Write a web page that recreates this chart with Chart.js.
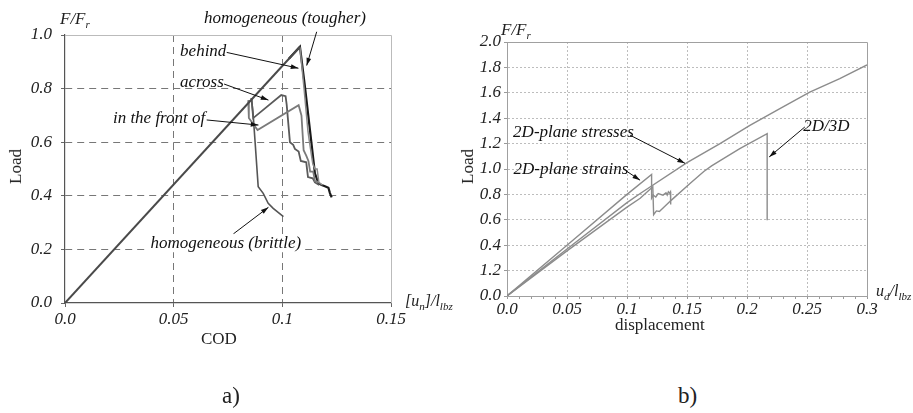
<!DOCTYPE html>
<html>
<head>
<meta charset="utf-8">
<script src="https://cdn.jsdelivr.net/npm/chart.js@4/dist/chart.umd.min.js"></script>
<style>
  body { margin: 0; background: #fff; width: 913px; height: 413px; position: relative; overflow: hidden; font-family: "Liberation Serif", serif; color: #222; }
  canvas { position: absolute; top: 0; }
  .t { position: absolute; white-space: nowrap; font-size: 17px; line-height: 1; }
  .i { font-style: italic; }
  sub { font-size: 11px; vertical-align: -4px; }
</style>
</head>
<body>
<canvas id="chartA" width="456" height="330" style="left:0"></canvas>
<canvas id="chartB" width="453" height="330" style="left:460px"></canvas>

<div class="t i" style="left:60px;top:10px">F/F<sub>r</sub></div>
<div class="t" style="left:-2px;top:158px;transform:rotate(-90deg)">Load</div>
<div class="t i" style="left:405px;top:293px;font-size:16px">[u<sub>n</sub>]/l<sub>lbz</sub></div>
<div class="t" style="left:201px;top:330px">COD</div>
<div class="t" style="left:222px;top:384px;font-size:23px">a)</div>

<div class="t i" style="left:501px;top:21px">F/F<sub>r</sub></div>
<div class="t" style="left:450px;top:158px;transform:rotate(-90deg)">Load</div>
<div class="t i" style="left:876px;top:283px;font-size:16px">u<sub>d</sub>/l<sub>lbz</sub></div>
<div class="t" style="left:615px;top:316px">displacement</div>
<div class="t" style="left:678px;top:384px;font-size:23px">b)</div>

<script>
// ---------- panel a: load vs COD ----------
const xTicksA = ['0.0', '0.05', '0.1', '0.15'];
const yTicksA = ['0.0', '0.2', '0.4', '0.6', '0.8', '1.0'];

// shared elastic rise, then the softening branches
const riseA = [[0, 0], [0.1081, 0.956]];
const tougherA = [[0.1030, 0.911], [0.1081, 0.956], [0.1104, 0.807], [0.1127, 0.646], [0.1150, 0.484], [0.1166, 0.447],
  [0.1181, 0.440], [0.1196, 0.436], [0.1212, 0.430], [0.1219, 0.410], [0.1227, 0.394]];
const behindA = [[0.1081, 0.956], [0.1100, 0.80], [0.1118, 0.64], [0.1125, 0.60], [0.1140, 0.52], [0.1150, 0.50],
  [0.1160, 0.50], [0.1168, 0.45], [0.1185, 0.44]];
const acrossA = [[0.0858, 0.765], [0.0866, 0.69], [0.0995, 0.776], [0.1015, 0.772], [0.1020, 0.74], [0.1035, 0.60],
  [0.1050, 0.59], [0.1058, 0.575], [0.1075, 0.565], [0.1085, 0.53], [0.1110, 0.525], [0.1118, 0.47],
  [0.1140, 0.465], [0.1150, 0.45], [0.1170, 0.44]];
const frontA = [[0.0843, 0.757], [0.0846, 0.69], [0.0886, 0.645], [0.1075, 0.738], [0.1088, 0.70], [0.1098, 0.57],
  [0.1110, 0.55], [0.1120, 0.53], [0.1128, 0.49], [0.1142, 0.49], [0.1150, 0.455], [0.1168, 0.45]];
const brittleA = [[0.0858, 0.765], [0.0866, 0.70], [0.0874, 0.608], [0.0889, 0.434], [0.0912, 0.409],
  [0.0935, 0.372], [0.0958, 0.353], [0.1005, 0.322]];

// ---------- panel b: load vs displacement ----------
const xTicksB = ['0.0', '0.05', '0.1', '0.15', '0.2', '0.25', '0.3'];
const yTicksB = ['0.0', '1.2', '0.4', '0.6', '0.8', '1.0', '1.2', '1.4', '1.6', '1.8', '2.0'];

const stressesB = [[0, 0], [0.05, 0.37], [0.1, 0.735], [0.111, 0.807], [0.15, 1.05], [0.1775, 1.20],
  [0.2024, 1.344], [0.2274, 1.476], [0.2523, 1.606], [0.2773, 1.711], [0.3, 1.82]];
const strainsB = [[0, 0], [0.05, 0.40], [0.1, 0.80], [0.1205, 0.957], [0.1205, 0.77], [0.122, 0.794],
  [0.124, 0.78], [0.126, 0.807], [0.130, 0.794], [0.1325, 0.812], [0.1335, 0.795], [0.1345, 0.82],
  [0.1355, 0.81], [0.1362, 0.82], [0.1364, 0.72]];
const twoThreeB = [[0, 0], [0.05, 0.355], [0.1, 0.70], [0.111, 0.77], [0.1215, 0.86], [0.1222, 0.64],
  [0.1245, 0.67], [0.127, 0.665], [0.137, 0.755], [0.1525, 0.886], [0.1640, 0.98], [0.1705, 1.025],
  [0.180, 1.08], [0.194, 1.161], [0.2168, 1.279], [0.2168, 0.597]];

const pts = (arr) => arr.map(([x, y]) => ({ x, y }));
const tickFont = { family: 'Liberation Serif', size: 17, style: 'italic' };
const near = (v, step) => Math.abs(v / step - Math.round(v / step)) < 1e-6;

// text labels with arrows, placed in data units
const notes = {
  id: 'notes',
  afterDatasetsDraw(chart, args, opts) {
    const { ctx, scales: { x, y } } = chart;
    ctx.save();
    ctx.font = 'italic 17px "Liberation Serif"';
    ctx.textAlign = 'center';
    ctx.textBaseline = 'middle';
    (opts.items || []).forEach((n) => {
      const ax = x.getPixelForValue(n.a[0]), ay = y.getPixelForValue(n.a[1]);
      const hx = x.getPixelForValue(n.h[0]), hy = y.getPixelForValue(n.h[1]);
      ctx.strokeStyle = '#111'; ctx.fillStyle = '#111'; ctx.lineWidth = 1;
      ctx.beginPath(); ctx.moveTo(ax, ay); ctx.lineTo(hx, hy); ctx.stroke();
      const ang = Math.atan2(hy - ay, hx - ax);
      ctx.beginPath();
      ctx.moveTo(hx, hy);
      ctx.lineTo(hx - 8 * Math.cos(ang - 0.3), hy - 8 * Math.sin(ang - 0.3));
      ctx.lineTo(hx - 8 * Math.cos(ang + 0.3), hy - 8 * Math.sin(ang + 0.3));
      ctx.closePath(); ctx.fill();
      const tx = x.getPixelForValue(n.t[0]), ty = y.getPixelForValue(n.t[1]);
      if (n.bg) {
        const w = ctx.measureText(n.text).width;
        ctx.fillStyle = '#fff';
        ctx.fillRect(tx - w / 2 - 2, ty - 9, w + 4, 18);
      }
      ctx.fillStyle = '#111';
      ctx.fillText(n.text, tx, ty);
    });
    ctx.restore();
  },
};

// light frame on the top and right edge of the plot
const frame = {
  id: 'frame',
  beforeDatasetsDraw(chart, args, opts) {
    const { ctx, chartArea: a } = chart;
    ctx.save();
    ctx.strokeStyle = opts.color || '#bbb';
    ctx.lineWidth = 1;
    ctx.beginPath();
    ctx.moveTo(a.left, a.top + 0.5); ctx.lineTo(a.right + 0.5, a.top + 0.5); ctx.lineTo(a.right + 0.5, a.bottom);
    ctx.stroke();
    ctx.restore();
  },
};

const line = (data, color, width) => ({ data: pts(data), borderColor: color, borderWidth: width, pointRadius: 0, tension: 0, fill: false, showLine: true });

new Chart(document.getElementById('chartA'), {
  type: 'scatter',
  data: {
    datasets: [
      line(riseA, '#4a4a4a', 2),
      line(behindA, '#8a8a8a', 1.5),
      line(frontA, '#7a7a7a', 1.8),
      line(acrossA, '#5a5a5a', 1.8),
      line(brittleA, '#555', 1.6),
      line(tougherA, '#1a1a1a', 2.2),
    ],
  },
  options: {
    responsive: false,
    animation: false,
    layout: { padding: { top: 35, right: 65, left: 0, bottom: 0 } },
    plugins: {
      legend: { display: false }, tooltip: { enabled: false },
      frame: { color: '#bbb' },
      notes: {
        items: [
          { text: 'homogeneous (tougher)', t: [0.1012, 1.06], a: [0.1158, 1.012], h: [0.1112, 0.886] },
          { text: 'behind', t: [0.0636, 0.938], a: [0.0744, 0.935], h: [0.1074, 0.876] },
          { text: 'across', t: [0.063, 0.822], a: [0.0732, 0.817], h: [0.0936, 0.757] },
          { text: 'in the front of', t: [0.0433, 0.689], a: [0.0652, 0.683], h: [0.0890, 0.664] },
          { text: 'homogeneous (brittle)', t: [0.074, 0.223], a: [0.0775, 0.258], h: [0.0936, 0.357], bg: true },
        ],
      },
    },
    scales: {
      x: {
        type: 'linear', min: 0, max: 0.15,
        afterFit: (s) => { s.height = 27; },
        ticks: { stepSize: 0.05, font: tickFont, color: '#222', padding: 2, maxRotation: 0, callback: (v, i) => xTicksA[i] },
        grid: { color: (c) => (c.index === 0 || c.index === 3 ? 'rgba(0,0,0,0)' : '#777'), tickColor: '#666', tickLength: 4, tickBorderDash: [] },
        border: { color: '#555', width: 1.2, dash: [7, 5] },
      },
      y: {
        min: 0, max: 1,
        afterFit: (s) => { s.width = 65; },
        ticks: { stepSize: 0.2, font: tickFont, color: '#222', padding: 9, callback: (v, i) => yTicksA[i] },
        grid: { color: (c) => (c.index === 0 || c.index === 5 ? 'rgba(0,0,0,0)' : '#777'), tickColor: '#666', tickLength: 4, tickBorderDash: [] },
        border: { color: '#555', width: 1.2, dash: [7, 5] },
      },
    },
  },
  plugins: [frame, notes],
});

new Chart(document.getElementById('chartB'), {
  type: 'scatter',
  data: {
    datasets: [
      line(stressesB, '#8c8c8c', 1.4),
      line(strainsB, '#8c8c8c', 1.4),
      line(twoThreeB, '#8c8c8c', 1.4),
    ],
  },
  options: {
    responsive: false,
    animation: false,
    layout: { padding: { top: 42, right: 46, left: 0, bottom: 0 } },
    plugins: {
      legend: { display: false }, tooltip: { enabled: false },
      frame: { color: '#a0a0a0' },
      notes: {
        items: [
          { text: '2D-plane stresses', t: [0.0554, 1.284], a: [0.1026, 1.266], h: [0.1483, 1.045] },
          { text: '2D-plane strains', t: [0.0533, 0.996], a: [0.0993, 0.985], h: [0.1109, 0.912] },
          { text: '2D/3D', t: [0.2662, 1.336], a: [0.2482, 1.331], h: [0.2185, 1.095] },
        ],
      },
    },
    scales: {
      x: {
        type: 'linear', min: 0, max: 0.3,
        afterFit: (s) => { s.height = 34; },
        ticks: {
          stepSize: 0.01, autoSkip: false, maxRotation: 0, font: tickFont, color: '#222', padding: 0,
          callback: (v) => (near(v, 0.05) ? xTicksB[Math.round(v / 0.05)] : ''),
        },
        grid: {
          color: (c) => (c.tick && near(c.tick.value, 0.05) && c.tick.value > 0 && c.tick.value < 0.3 ? '#bdbdbd' : 'rgba(0,0,0,0)'),
          tickColor: '#999', tickLength: 3, tickBorderDash: [],
        },
        border: { color: '#a0a0a0', width: 1, dash: [2, 2] },
      },
      y: {
        min: 0, max: 2,
        afterFit: (s) => { s.width = 47; },
        ticks: { stepSize: 0.2, font: tickFont, color: '#222', padding: 3, callback: (v, i) => yTicksB[i] },
        grid: { color: (c) => (c.index === 0 || c.index === 10 ? 'rgba(0,0,0,0)' : '#bdbdbd'), tickColor: '#999', tickLength: 3, tickBorderDash: [] },
        border: { color: '#a0a0a0', width: 1, dash: [2, 2] },
      },
    },
  },
  plugins: [frame, notes],
});
</script>
</body>
</html>
